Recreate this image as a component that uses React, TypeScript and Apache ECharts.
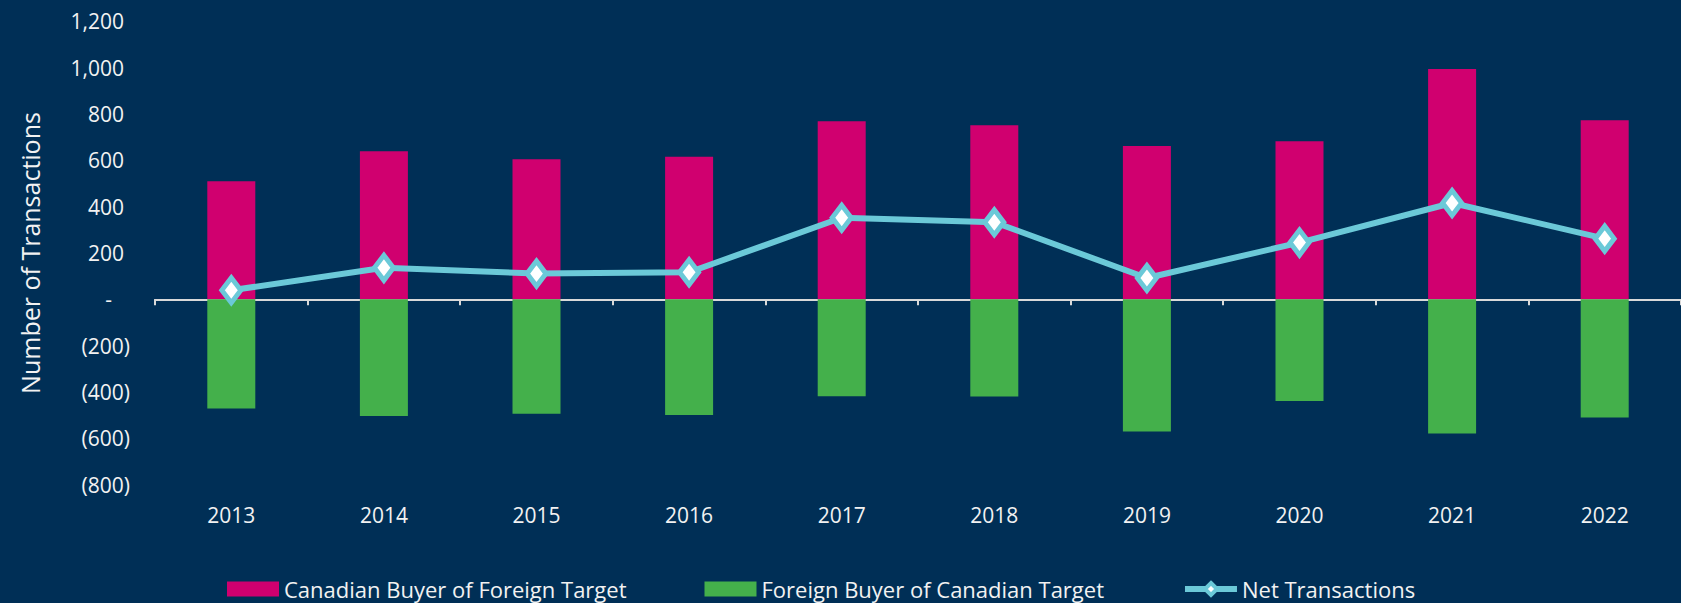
import React, { useEffect, useRef } from "react";
import * as echarts from "echarts";

const years = ["2013", "2014", "2015", "2016", "2017", "2018", "2019", "2020", "2021", "2022"];
const canadianBuyer = [510, 639, 605, 616, 769, 752, 662, 683, 994, 773];
const foreignBuyer = [-471, -504, -494, -500, -418, -420, -571, -439, -579, -510];
const netTransactions = [39, 136, 111, 117, 352, 333, 92, 245, 416, 262];

const BG = "#002F56";
const PINK = "#D0006F";
const GREEN = "#44B04B";
const CYAN = "#6BC9D8";
const TEXT = "#F2F2F2";
const FONT = "'Open Sans', Lato, sans-serif";

const fmt = (n: number) => n.toLocaleString("en-US");

export default function App() {
  const ref = useRef<HTMLDivElement>(null);
  useEffect(() => {
    if (!ref.current) return;
    const chart = echarts.init(ref.current, null, { renderer: "svg" });
    chart.setOption({
      animation: false,
      backgroundColor: BG,
      textStyle: { fontFamily: FONT },
      grid: { left: 155, top: 21.4, width: 1537, height: 463.2, containLabel: false },
      legend: {
        left: 227,
        top: 578,
        padding: 0,
        itemWidth: 52,
        itemHeight: 15,
        itemGap: 78,
        textStyle: { color: TEXT, fontSize: 22, fontFamily: FONT, lineHeight: 22 },
        data: [
          { name: "Canadian Buyer of Foreign Target", icon: "rect" },
          { name: "Foreign Buyer of Canadian Target", icon: "rect" },
          {
            name: "Net Transactions",
            lineStyle: { width: 6, color: CYAN },
            itemStyle: { color: "#FFFFFF", borderColor: CYAN, borderWidth: 4 },
          },
        ],
      },
      xAxis: [
        {
          type: "category",
          data: years,
          axisLine: { onZero: true, lineStyle: { color: "#D9D9D9", width: 2 } },
          axisTick: { show: true, length: 6, lineStyle: { color: "#D9D9D9", width: 2 } },
          axisLabel: { show: false },
        },
        {
          type: "category",
          data: years,
          position: "bottom",
          axisLine: { show: false },
          axisTick: { show: false },
          axisLabel: { color: TEXT, fontSize: 21, fontFamily: FONT, margin: 20 },
        },
      ],
      yAxis: {
        type: "value",
        min: -800,
        max: 1200,
        interval: 200,
        splitLine: { show: false },
        axisLine: { show: false },
        axisTick: { show: false },
        name: "Number of Transactions",
        nameLocation: "middle",
        nameGap: 113,
        nameTextStyle: { color: TEXT, fontSize: 25, fontFamily: FONT },
        axisLabel: {
          margin: 25,
          color: TEXT,
          fontSize: 21,
          fontFamily: FONT,
          formatter: (v: number) =>
            v > 0 ? `{p|${fmt(v)}}` : v === 0 ? `{z|-}` : `{n|(${fmt(-v)})}`,
          rich: {
            p: { color: TEXT, fontSize: 21, fontFamily: FONT, padding: [0, 6, 0, 0] },
            z: { color: TEXT, fontSize: 21, fontFamily: FONT, padding: [0, 18, 0, 0] },
            n: { color: TEXT, fontSize: 21, fontFamily: FONT },
          },
        },
      },
      series: [
        {
          name: "Canadian Buyer of Foreign Target",
          type: "bar",
          stack: "a",
          barWidth: 48,
          data: canadianBuyer,
          itemStyle: { color: PINK },
        },
        {
          name: "Foreign Buyer of Canadian Target",
          type: "bar",
          stack: "a",
          barWidth: 48,
          data: foreignBuyer,
          itemStyle: { color: GREEN },
        },
        {
          name: "Net Transactions",
          type: "line",
          data: netTransactions,
          symbol: "diamond",
          symbolSize: [19, 25],
          lineStyle: { color: CYAN, width: 6 },
          itemStyle: { color: "#FFFFFF", borderColor: CYAN, borderWidth: 5 },
          z: 5,
        },
      ],
    });
    return () => chart.dispose();
  }, []);
  return (
    <div
      ref={ref}
      style={{ position: "fixed", left: 0, top: 0, width: 1681, height: 603, background: BG }}
    />
  );
}
